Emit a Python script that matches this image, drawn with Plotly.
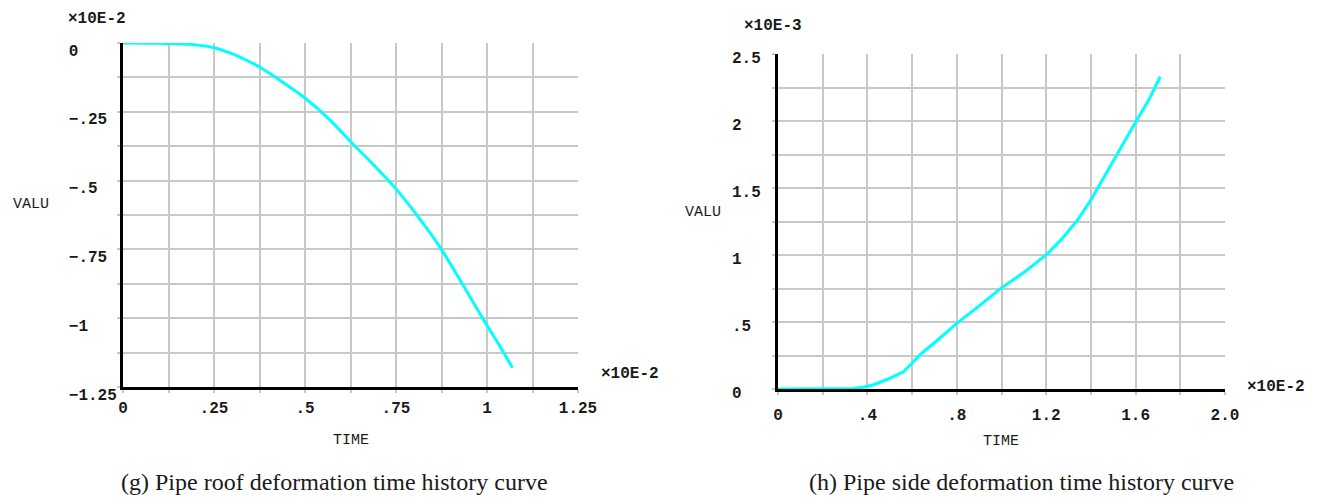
import plotly.graph_objects as go

W, H = 1321, 500

# ---- data (time in x10E-2, values in x10E-2 / x10E-3) ----
roof_time = [0, 0.1, 0.184, 0.25, 0.294, 0.335, 0.376, 0.431, 0.5, 0.569, 0.63, 0.69,
             0.75, 0.81, 0.87, 0.93, 0.99, 1.03, 1.07]
roof_valu = [0, -0.001, -0.005, -0.017, -0.036, -0.06, -0.088, -0.135, -0.2, -0.28,
             -0.365, -0.445, -0.53, -0.63, -0.74, -0.87, -1.005, -1.09, -1.18]

side_time = [0, 0.1, 0.2, 0.3, 0.34, 0.38, 0.425, 0.5, 0.56, 0.6, 0.635, 0.7, 0.8, 0.9,
             1.0, 1.1, 1.2, 1.27, 1.34, 1.4, 1.46, 1.52, 1.6, 1.66, 1.71]
side_valu = [0, 0, 0, 0, 0.003, 0.013, 0.03, 0.08, 0.127, 0.194, 0.254, 0.345, 0.49, 0.62,
             0.755, 0.87, 1.0, 1.12, 1.26, 1.41, 1.58, 1.76, 1.99, 2.16, 2.33]

roof_x_ticks = [0, 0.125, 0.25, 0.375, 0.5, 0.625, 0.75, 0.875, 1.0, 1.125, 1.25]
roof_x_labels = ["0", "", ".25", "", ".5", "", ".75", "", "1", "", "1.25"]
roof_y_ticks = [0, -0.125, -0.25, -0.375, -0.5, -0.625, -0.75, -0.875, -1.0, -1.125, -1.25]
roof_y_labels = ["0", "", "\u2212.25", "", "\u2212.5", "", "\u2212.75", "", "\u22121", "", "\u22121.25"]

side_x_ticks = [0, 0.2, 0.4, 0.6, 0.8, 1.0, 1.2, 1.4, 1.6, 1.8, 2.0]
side_x_labels = ["0", "", ".4", "", ".8", "", "1.2", "", "1.6", "", "2.0"]
side_y_ticks = [0, 0.25, 0.5, 0.75, 1.0, 1.25, 1.5, 1.75, 2.0, 2.25, 2.5]
side_y_labels = ["0", "", ".5", "", "1", "", "1.5", "", "2", "", "2.5"]

captions = ["(g) Pipe roof deformation time history curve",
            "(h) Pipe side deformation time history curve"]


def pad(labels, n):
    return [s + "\u00a0" * (n - len(s)) if s else "" for s in labels]


MONO = "Liberation Mono"
GRID = "#c8c8c8"
tickfont = dict(family=MONO, size=16, color="#1a1a1a", weight="bold")


def xpx(p):
    return p / W


def ypx(p):
    return 1 - p / H


def axis_common():
    return dict(tickmode="array", showgrid=True, gridcolor=GRID, gridwidth=2,
                showline=True, linecolor="black", linewidth=3, ticks="outside",
                ticklen=3, tickwidth=2, tickcolor=GRID, tickfont=tickfont,
                zeroline=False, layer="below traces", fixedrange=True, automargin=False)


fig = go.Figure()
fig.add_trace(go.Scatter(x=roof_time, y=roof_valu, mode="lines",
                         line=dict(color="#00ffff", width=3, shape="spline", smoothing=0.6),
                         xaxis="x", yaxis="y", cliponaxis=False, showlegend=False))
fig.add_trace(go.Scatter(x=side_time, y=side_valu, mode="lines",
                         line=dict(color="#00ffff", width=3), xaxis="x2", yaxis="y2",
                         cliponaxis=False, showlegend=False))

fig.update_layout(
    width=W, height=H, autosize=False,
    margin=dict(l=0, r=0, t=0, b=0, pad=0),
    paper_bgcolor="white", plot_bgcolor="white",
    xaxis=dict(domain=[xpx(123), xpx(578)], range=[0, 1.25], anchor="y",
               tickvals=roof_x_ticks, ticktext=roof_x_labels, ticklabelstandoff=1,
               **axis_common()),
    yaxis=dict(domain=[ypx(387), ypx(43)], range=[-1.25, 0], anchor="x",
               tickvals=roof_y_ticks, ticktext=pad(roof_y_labels, 5), ticklabelstandoff=0,
               ticklabelshift=7, **axis_common()),
    xaxis2=dict(domain=[xpx(778), xpx(1225)], range=[0, 2.0], anchor="y2",
                tickvals=side_x_ticks, ticktext=side_x_labels, ticklabelstandoff=6,
                **axis_common()),
    yaxis2=dict(domain=[ypx(389), ypx(54)], range=[0, 2.5], anchor="x2",
                tickvals=side_y_ticks, ticktext=pad(side_y_labels, 3), ticklabelstandoff=8,
                ticklabelshift=3, **axis_common()),
)
try:
    fig.update_layout(yaxis_ticklabelstandoff=-3)
except Exception:
    pass

ann_bold = dict(family=MONO, size=16, color="#1a1a1a", weight="bold")
ann_reg = dict(family=MONO, size=15, color="#1a1a1a")
annots = [
    ("\u00d710E-2", 66, 19, "left", ann_bold),
    ("\u00d710E-2", 599, 374, "left", ann_bold),
    ("VALU", 11, 205, "left", ann_reg),
    ("TIME", 351, 440, "center", ann_reg),
    ("\u00d710E-3", 742, 26, "left", ann_bold),
    ("\u00d710E-2", 1245, 387, "left", ann_bold),
    ("VALU", 683, 213, "left", ann_reg),
    ("TIME", 1001, 441, "center", ann_reg),
]
for text, px, py, anchor, font in annots:
    fig.add_annotation(text=text, x=xpx(px), y=ypx(py), xref="paper", yref="paper",
                       xanchor=anchor, yanchor="middle", showarrow=False, font=font)

for cap, cx in zip(captions, [334, 1022]):
    fig.add_annotation(text=cap, x=xpx(cx), y=ypx(482), xref="paper", yref="paper",
                       xanchor="center", yanchor="middle", showarrow=False,
                       font=dict(family="Liberation Serif", size=24, color="#1a1a1a"))

fig.write_html("out.html")
